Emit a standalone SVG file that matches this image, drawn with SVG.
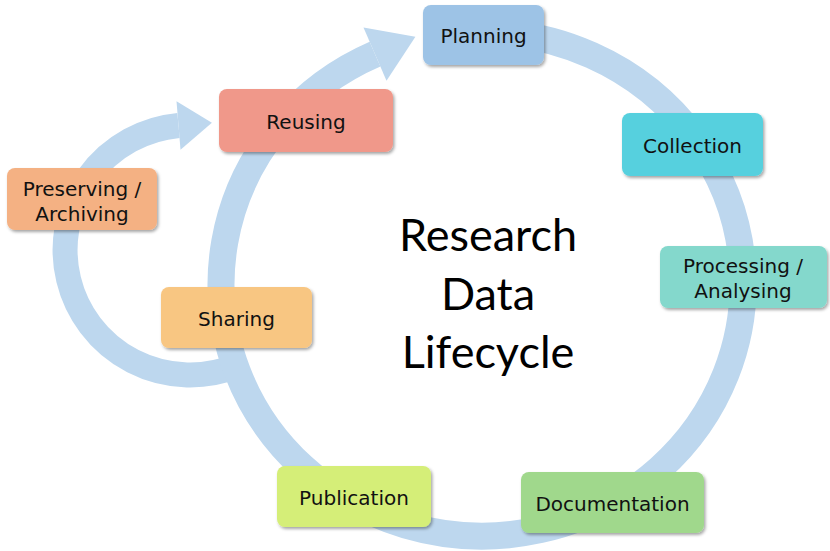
<svg xmlns="http://www.w3.org/2000/svg" width="830" height="551" viewBox="0 0 830 551">
  <style>
    .ring { fill: none; stroke: #BDD7EE; }
    .head { fill: #BDD7EE; }
    .box { filter: url(#sh); }
    .lbl { font-family: "DejaVu Sans", Verdana, sans-serif; font-size: 20px; fill: #111; text-anchor: middle; }
    .title { font-family: Lato, "Open Sans", sans-serif; font-size: 45px; fill: #000; text-anchor: middle; }
  </style>
  <defs>
    <filter id="sh" x="-10%" y="-10%" width="125%" height="135%">
      <feDropShadow dx="1.5" dy="2" stdDeviation="1.5" flood-color="#000" flood-opacity="0.35"/>
    </filter>
  </defs>
  <rect width="830" height="551" fill="#fff"/>

  <g id="connectors">
    <!-- small loop: Sharing -> Preserving -> Reusing -->
    <path class="ring" stroke-width="25" d="M 236.8 365.9 A 125 125 0 1 1 178.5 125.5"/>
    <polygon class="head" points="180.5,149.7 176.5,101.3 211.9,122.8"/>
    <!-- main cycle -->
    <path class="ring" stroke-width="27" d="M 475.2 32.1 A 261 252 0 1 1 375 54.2"/>
    <polygon class="head" points="363.5,27.6 386.5,80.8 415.4,36.8"/>
  </g>

  <g id="title">
    <text class="title" x="488" y="251">Research</text>
    <text class="title" x="488" y="310">Data</text>
    <text class="title" x="488" y="368">Lifecycle</text>
  </g>

  <g id="planning">
    <rect class="box" x="423" y="5" width="121" height="60" rx="8" fill="#9DC3E6"/>
    <text class="lbl" x="483.5" y="43">Planning</text>
  </g>
  <g id="collection">
    <rect class="box" x="622" y="113" width="141" height="63" rx="8" fill="#56D0DE"/>
    <text class="lbl" x="692.5" y="152.5">Collection</text>
  </g>
  <g id="processing">
    <rect class="box" x="660" y="246" width="167" height="62" rx="8" fill="#84D8CC"/>
    <text class="lbl" x="743" y="273">Processing /</text>
    <text class="lbl" x="743" y="297.5">Analysing</text>
  </g>
  <g id="documentation">
    <rect class="box" x="521" y="472" width="183" height="61" rx="8" fill="#A0D88C"/>
    <text class="lbl" x="612.5" y="510.5">Documentation</text>
  </g>
  <g id="publication">
    <rect class="box" x="277" y="466" width="154" height="61" rx="8" fill="#D5EE78"/>
    <text class="lbl" x="354" y="504.5">Publication</text>
  </g>
  <g id="sharing">
    <rect class="box" x="161" y="287" width="151" height="61" rx="8" fill="#F8C682"/>
    <text class="lbl" x="236.5" y="325.5">Sharing</text>
  </g>
  <g id="preserving">
    <rect class="box" x="7" y="168" width="150" height="62" rx="8" fill="#F4B183"/>
    <text class="lbl" x="82" y="196">Preserving /</text>
    <text class="lbl" x="82" y="220.5">Archiving</text>
  </g>
  <g id="reusing">
    <rect class="box" x="219" y="89" width="174" height="63" rx="8" fill="#F0988A"/>
    <text class="lbl" x="306" y="129">Reusing</text>
  </g>
</svg>
